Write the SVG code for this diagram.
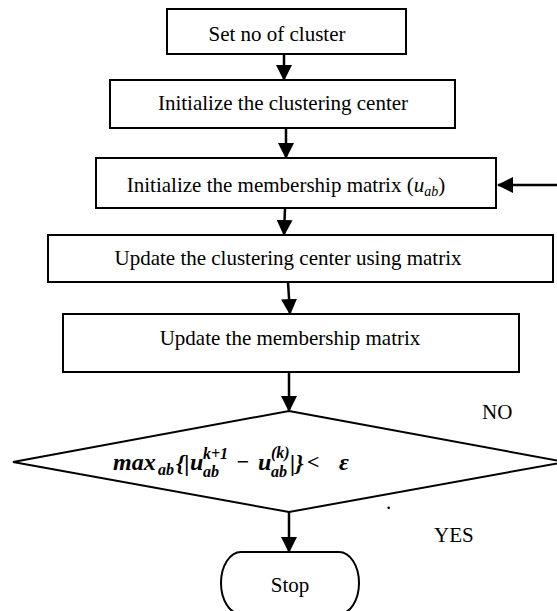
<svg xmlns="http://www.w3.org/2000/svg" width="557" height="611" viewBox="0 0 557 611">
<style>
.box{fill:#fff;stroke:#000;stroke-width:2}
.lbl{font-family:"Liberation Serif","Times New Roman",serif;font-size:21px;fill:#000;text-anchor:middle}
.free{font-family:"Liberation Serif","Times New Roman",serif;font-size:21px;fill:#000}
.m{font-family:"Liberation Serif","Times New Roman",serif;font-weight:bold;font-style:italic;fill:#000}
.conn{stroke:#000;stroke-width:2.5;fill:none}
</style>
<defs>
<marker id="ah" markerUnits="userSpaceOnUse" markerWidth="16" markerHeight="16" viewBox="0 0 16 16" refX="15" refY="8" orient="auto">
<path d="M0,0 L16,8 L0,16 Z" fill="#000"/>
</marker>
</defs>
<rect width="557" height="611" fill="#fff"/>
<g id="connectors">
<line class="conn" x1="284" y1="54" x2="284" y2="80" marker-end="url(#ah)"/>
<line class="conn" x1="286" y1="128" x2="286" y2="158" marker-end="url(#ah)"/>
<line class="conn" x1="285" y1="208" x2="284" y2="235" marker-end="url(#ah)"/>
<line class="conn" x1="288" y1="282" x2="290" y2="314" marker-end="url(#ah)"/>
<line class="conn" x1="289" y1="372" x2="289" y2="411" marker-end="url(#ah)"/>
<line class="conn" x1="289" y1="512" x2="289" y2="552" marker-end="url(#ah)"/>
<line class="conn" x1="557" y1="185" x2="498" y2="185" marker-end="url(#ah)"/>
</g>
<g id="n1">
<rect class="box" x="167" y="9" width="239" height="45"/>
<text class="lbl" x="277" y="41">Set no of cluster</text>
</g>
<g id="n2">
<rect class="box" x="110" y="80" width="345" height="48"/>
<text class="lbl" x="283" y="110">Initialize the clustering center</text>
</g>
<g id="n3">
<rect class="box" x="96" y="158" width="400" height="50"/>
<text class="lbl" x="286" y="192">Initialize the membership matrix (<tspan font-style="italic">u</tspan><tspan font-style="italic" font-size="14" dy="4">ab</tspan><tspan dy="-4">)</tspan></text>
</g>
<g id="n4">
<rect class="box" x="48" y="235" width="505" height="47"/>
<text class="lbl" x="288" y="265">Update the clustering center using matrix</text>
</g>
<g id="n5">
<rect class="box" x="63" y="314" width="456" height="58"/>
<text class="lbl" x="290" y="345">Update the membership matrix</text>
</g>
<g id="n6">
<polygon class="box" points="289,411 565,462 289,512 13,462"/>
<text class="m" font-size="24" x="113" y="470">max</text>
<text class="m" font-size="16" x="158" y="475">ab</text>
<text class="m" font-size="24" font-style="normal" x="176" y="471">{|</text>
<text class="m" font-size="24" x="190" y="470">u</text>
<text class="m" font-size="16" x="203" y="459">k+1</text>
<text class="m" font-size="16" x="203" y="477">ab</text>
<text class="m" font-size="22" font-style="normal" x="236" y="469">−</text>
<text class="m" font-size="24" x="258" y="470">u</text>
<text class="m" font-size="16" x="271" y="458">(k)</text>
<text class="m" font-size="16" x="271" y="477">ab</text>
<text class="m" font-size="24" font-style="normal" x="290" y="471">|}</text>
<text class="m" font-size="22" font-style="normal" x="307" y="469">&lt;</text>
<text class="m" font-size="24" x="339" y="470">ε</text>
</g>
<g id="n7">
<rect class="box" x="221" y="552" width="138" height="62" rx="20" ry="31"/>
<text class="lbl" x="290" y="592">Stop</text>
</g>
<g id="labels">
<text class="free" x="482" y="419">NO</text>
<text class="free" x="434" y="542">YES</text>
<text class="free" x="386" y="509" font-size="12">.</text>
</g>
</svg>
